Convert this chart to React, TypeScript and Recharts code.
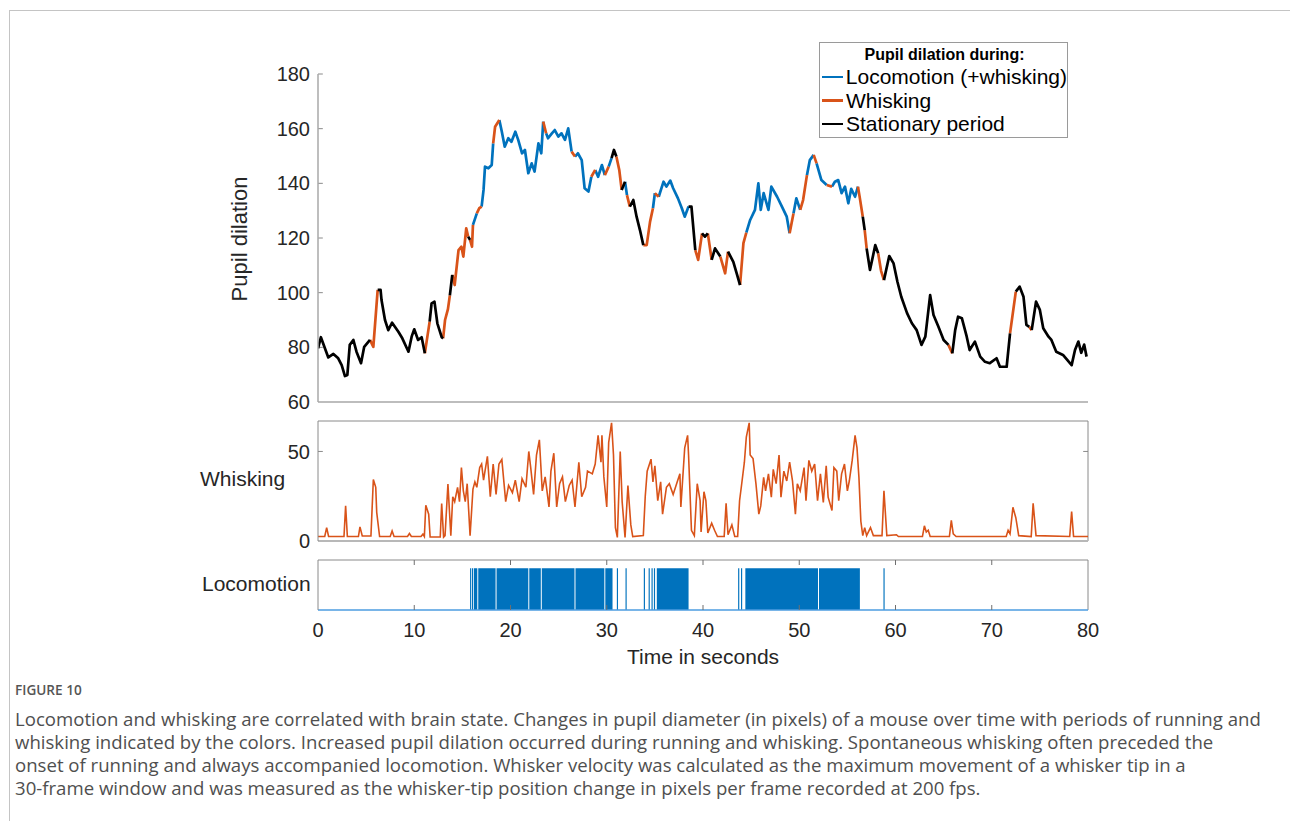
import React from 'react';
import {
  LineChart,
  Line,
  XAxis,
  YAxis,
  ReferenceLine,
  Legend,
  ComposedChart,
  Area,
} from 'recharts';

const FONT = '"Liberation Sans", Arial, Helvetica, sans-serif';
const CAPTION_FONT = '"Open Sans", "Noto Sans", sans-serif';

const BLUE = '#0072BD';
const ORANGE = '#D95319';
const BLACK = '#000000';
const AXIS = '#8a8a8a';

// geometry: plot area spans x 318..1088 in every panel
const AXIS_W = 60;
const PLOT_W = 770;
const RIGHT_PAD = 20;
const CHART_LEFT = 318 - AXIS_W;
const CHART_W = AXIS_W + PLOT_W + RIGHT_PAD;

const xTicks = [0, 10, 20, 30, 40, 50, 60, 70, 80];
const innerXTicks = [10, 20, 30, 40, 50, 60, 70];
const pupilTicks = [60, 80, 100, 120, 140, 160, 180];
const whiskTicks = [0, 50];

// pupil dilation trace (seconds, pixels) and the state of each segment:
// L = locomotion (+whisking), W = whisking, S = stationary
const pupilTime = [
  0, 0.3, 1.07, 1.6, 2.1, 2.46, 2.8, 3.05, 3.3, 3.67,
  4.0, 4.47, 4.8, 5.4, 5.75, 6.2, 6.5, 6.6, 6.96, 7.3,
  7.7, 8.35, 8.76, 9.4, 9.73, 10.0, 10.4, 10.77, 11.1, 11.6,
  11.8, 12.1, 12.4, 12.85, 13.0, 13.2, 13.5, 13.7, 13.95, 14.2,
  14.6, 14.9, 15.1, 15.4, 15.6, 15.8, 16.0, 16.1, 16.5, 16.76,
  17.0, 17.2, 17.35, 17.7, 18.05, 18.2, 18.4, 18.84, 19.1, 19.4,
  19.77, 20.1, 20.5, 20.8, 21.2, 21.5, 21.85, 22.2, 22.5, 22.9,
  23.2, 23.4, 23.7, 23.9, 24.3, 24.6, 24.97, 25.3, 25.66, 26.0,
  26.35, 26.7, 27.0, 27.4, 27.7, 28.1, 28.4, 28.8, 29.1, 29.5,
  29.8, 30.2, 30.5, 30.75, 31.0, 31.3, 31.55, 31.9, 32.1, 32.4,
  32.76, 33.1, 33.45, 33.8, 34.15, 34.5, 34.8, 35.0, 35.4, 35.9,
  36.2, 36.6, 36.9, 37.4, 37.8, 38.1, 38.5, 38.8, 39.2, 39.5,
  39.9, 40.2, 40.5, 40.9, 41.25, 41.8, 42.3, 42.6, 43.15, 43.5,
  43.85, 44.2, 44.5, 44.9, 45.4, 45.75, 46.0, 46.3, 46.8, 47.1,
  47.7, 48.2, 48.7, 49.0, 49.4, 49.7, 50.1, 50.4, 50.8, 51.1,
  51.5, 51.8, 52.3, 52.85, 53.4, 53.7, 54.05, 54.4, 54.75, 55.1,
  55.4, 55.8, 56.1, 56.3, 56.6, 56.8, 57.0, 57.35, 57.9, 58.2,
  58.5, 58.8, 59.35, 59.8, 60.2, 60.6, 61.2, 61.7, 62.2, 62.7,
  63.1, 63.6, 63.95, 64.45, 65.0, 65.5, 65.9, 66.2, 66.5, 66.9,
  67.4, 67.7, 68.25, 68.8, 69.3, 69.8, 70.5, 70.85, 71.55, 71.9,
  72.5, 72.9, 73.3, 73.6, 73.9, 74.15, 74.6, 75.0, 75.35, 75.9,
  76.2, 76.7, 77.4, 78.3, 78.65, 79.0, 79.3, 79.6, 79.85,
];
const pupilValue = [
  79.6, 83.7, 76.3, 77.6, 76.0, 73.5, 69.5, 69.9, 80.9, 82.7,
  78.4, 74.2, 80.2, 82.7, 80.2, 101, 101, 97.3, 90, 86.3,
  89, 85.7, 83.3, 78.4, 83.9, 86.6, 82.7, 83.7, 77.8, 89.4,
  96.1, 96.7, 88.8, 83.7, 83.3, 90, 94, 99, 106.5, 102.8,
  115.6, 116.8, 113.2, 123.5, 120.5, 119.3, 116.8, 124.8, 129, 130.9,
  131.5, 137.6, 146.1, 145.5, 146.7, 154.6, 160.7, 163.2, 158.9, 153.4,
  156.5, 155.2, 158.9, 155.9, 151, 152.2, 143.7, 147.3, 144.3, 154.6,
  151, 162.6, 158.3, 156.5, 158.3, 159.5, 157.1, 158.3, 155.9, 160.1,
  151.6, 149.8, 151, 148.5, 138.2, 137, 142.4, 144.9, 142.4, 146.7,
  143, 146.1, 149.2, 152.2, 149.8, 144.9, 137.6, 140.6, 135.7, 131.5,
  133.9, 127.8, 122.9, 117.4, 117.4, 126, 130.9, 136.4, 135.1, 140.6,
  138.8, 141, 138.2, 134.5, 130.9, 127.8, 131.5, 131.5, 115.6, 112,
  121.7, 120.5, 121.7, 112, 116.2, 113.2, 107.1, 115, 111.3, 107.1,
  102.8, 118.1, 122, 126.6, 130.3, 140, 130.3, 136.4, 130.3, 138.8,
  135.1, 131.5, 127.8, 121.7, 129, 134.5, 130.3, 133.9, 143, 148.5,
  150.4, 147.3, 141.2, 139.4, 138.8, 140.6, 141.2, 136.4, 138.8, 132.7,
  138, 135.1, 138.8, 134.5, 127.8, 122.9, 116.2, 108.3, 117.4, 114.4,
  108, 104.6, 113.4, 110.7, 104, 98.5, 92.5, 88.8, 86.3, 80.9,
  83.9, 99.1, 91.8, 87.6, 82.7, 80.9, 77.8, 86.3, 91.2, 90.6,
  83.9, 79, 82.1, 76.6, 74.7, 74.2, 76, 72.9, 72.9, 85.1,
  100.4, 102.2, 98.5, 88.2, 87.5, 86.3, 96.7, 93.7, 87.0, 83.9,
  82.7, 78.4, 77.2, 73.5, 79, 82.1, 78, 81, 76.6,
];
const pupilState = (
  'SSSSSSSSSS SSSWWSSSSS SSSSSSSSWS SSSSWWWSWW WWWWSWWLWW ' +
  'LLLLLWWLLL LLLLLLLLLL LWLLLLLLLL WLLLLLWLLL WLSSWWSLWS ' +
  'SSSWWWLWLL LLLLLLSSWW SSWSSWWSSS WWLLLLLLLL LLLWLLWWLL ' +
  'WLLWLLLLLL LLWWSWSSSW WSSSSSSSSS SSSSSWSSSS SSSSSSSSSW ' +
  'SSSSWSSSSS SSSSSSSSS'
).replace(/ /g, '').split('');

// whisker velocity trace
const whiskTime = [
  0, 0.7, 0.9, 1.1, 2.7, 2.87, 3.05, 4.2, 4.36, 4.6,
  5.5, 5.75, 6.0, 6.1, 6.4, 7.5, 7.7, 7.9, 9.3, 9.5,
  9.7, 10.7, 10.9, 11.05, 11.2, 11.5, 11.65, 12.7, 12.85, 13.05,
  13.2, 13.5, 13.8, 14.0, 14.2, 14.5, 14.7, 14.9, 15.1, 15.3,
  15.5, 15.8, 16.1, 16.3, 16.5, 16.8, 17.0, 17.2, 17.6, 17.9,
  18.2, 18.5, 18.8, 19.1, 19.5, 19.8, 20.2, 20.5, 20.9, 21.2,
  21.6, 21.9, 22.1, 22.4, 22.7, 23.0, 23.3, 23.6, 24.0, 24.2,
  24.5, 24.8, 25.1, 25.4, 25.7, 26.1, 26.4, 26.7, 27.1, 27.4,
  27.8, 28.0, 28.5, 28.8, 29.1, 29.4, 29.5, 29.7, 30.0, 30.2,
  30.5, 30.7, 30.9, 31.1, 31.4, 31.6, 31.9, 32.2, 32.5, 32.7,
  33.8, 34.0, 34.2, 34.6, 34.8, 35.0, 35.3, 35.6, 35.8, 36.2,
  36.5, 36.9, 37.3, 37.6, 37.7, 38.1, 38.4, 38.5, 38.8, 39.1,
  39.4, 39.7, 39.8, 40.1, 40.3, 40.5, 40.9, 41.2, 41.5, 42.2,
  42.4, 42.6, 43.0, 43.3, 43.6, 43.8, 44.0, 44.3, 44.5, 44.8,
  44.9, 45.2, 45.5, 45.8, 46.0, 46.3, 46.5, 46.8, 47.1, 47.3,
  47.6, 47.9, 48.1, 48.4, 48.7, 49.0, 49.3, 49.6, 49.8, 50.1,
  50.5, 50.7, 51.0, 51.3, 51.6, 51.9, 52.2, 52.5, 52.8, 53.0,
  53.4, 53.6, 53.9, 54.1, 54.4, 54.7, 55.0, 55.2, 55.5, 55.8,
  56.0, 56.2, 56.4, 56.6, 56.8, 57.0, 57.4, 57.7, 58.6, 58.8,
  59.1, 60.1, 60.3, 62.8, 63.0, 63.2, 63.4, 63.6, 65.6, 65.8,
  66.0, 66.3, 71.5, 71.7, 71.9, 72.2, 72.5, 72.8, 74.1, 74.3,
  74.6, 78.1, 78.3, 78.5, 80,
];
const whiskValue = [
  2.5, 2.5, 7.5, 2.5, 2.5, 19.7, 2.5, 2.5, 7.9, 2.8,
  2.8, 34.3, 30, 16, 2.5, 2.5, 5.6, 2.5, 2.5, 4.2,
  2.5, 2.5, 3.8, 2.5, 20, 15, 2.2, 2.2, 20.9, 2.2,
  3, 31.8, 3, 24.7, 22, 29.9, 22, 41, 28, 22,
  32, 3, 29, 33, 30, 41, 43, 34, 47.3, 24.7,
  43, 26, 43, 45.5, 22, 31, 27, 34, 22, 34.8,
  30, 50, 41, 26, 48, 56.5, 28, 35.8, 19, 39,
  49, 19, 32, 35.8, 22, 31, 34, 19, 44, 24.7,
  30, 39, 37.5, 43, 59, 44, 59, 35.8, 19, 55,
  66, 48, 7.5, 2, 50, 22, 2, 31, 9, 2.5,
  3, 25, 39, 45.7, 33, 42, 22.5, 33, 15, 30,
  32, 26, 32.6, 37.5, 19, 52, 59, 48, 6, 3,
  32, 22.5, 5, 27.5, 22.5, 4.5, 10, 6, 2.5, 2.5,
  21, 3.5, 9, 2.5, 2.5, 22.5, 31, 44, 58, 66,
  48, 46, 32, 15, 19.6, 35.5, 28, 37.5, 24.5, 40,
  32, 48, 24.5, 39, 33.5, 44, 33.5, 15, 32, 28,
  41, 22.5, 45, 39, 43, 22.5, 37.5, 21.5, 42, 24.5,
  17, 41, 39, 22.5, 37.5, 43, 28, 33.5, 45, 59,
  52, 35.5, 11, 3, 7.5, 3, 7.5, 3, 3, 28,
  3, 3.5, 2.5, 2.5, 8.5, 5, 6, 2.5, 2.5, 11.5,
  4, 2.5, 2.5, 6, 4, 18.8, 13, 3, 2.5, 21,
  3, 2.5, 16.5, 2.5, 2.5,
];

// locomotion bouts (start / end, seconds)
const locoStart = [
  15.8, 16.0, 16.2, 16.65, 18.55, 21.95, 23.25, 26.75, 29.85, 31.05,
  31.95, 33.85, 34.35, 34.65, 34.9, 35.2, 43.65, 43.95, 44.4, 52.05, 58.75,
];
const locoEnd = [
  15.92, 16.12, 16.55, 18.45, 21.85, 23.15, 26.65, 29.75, 30.6, 31.17,
  32.07, 33.97, 34.47, 34.77, 35.02, 38.5, 43.77, 44.07, 51.95, 56.3, 58.87,
];

const pupilSeries = [
  { code: 'L', name: 'Locomotion (+whisking)', color: BLUE },
  { code: 'W', name: 'Whisking', color: ORANGE },
  { code: 'S', name: 'Stationary period', color: BLACK },
];

// one series per state, runs separated by null points so the line breaks
const buildRuns = (code: string) => {
  const out: { t: number; v: number | null }[] = [];
  for (let i = 0; i < pupilTime.length - 1; i++) {
    if (pupilState[i] !== code) continue;
    if (i === 0 || pupilState[i - 1] !== code) {
      if (out.length) out.push({ t: pupilTime[i], v: null });
      out.push({ t: pupilTime[i], v: pupilValue[i] });
    }
    out.push({ t: pupilTime[i + 1], v: pupilValue[i + 1] });
  }
  return out;
};

const whiskData = whiskTime.map((t, i) => ({ t, v: whiskValue[i] }));

const locoData = (() => {
  const out = [{ t: 0, v: 0 }];
  locoStart.forEach((s, i) => {
    out.push({ t: s, v: 1 });
    out.push({ t: locoEnd[i], v: 0 });
  });
  out.push({ t: 80, v: 0 });
  return out;
})();

const tickStyle = { fill: '#262626', fontSize: 20, fontFamily: FONT };

const LegendBox = (props: any) => {
  const { payload = [] } = props;
  // keep the series order (the legend sorts by name otherwise)
  const ordered = pupilSeries
    .map((s) => payload.find((p: any) => p.value === s.name))
    .filter(Boolean);
  return (
    <div
      style={{
        width: 249,
        height: 96,
        boxSizing: 'border-box',
        border: '1px solid #9a9a9a',
        background: '#fff',
        padding: '2px 0 1px 2px',
        fontFamily: FONT,
        color: '#000',
      }}
    >
      <div style={{ fontWeight: 700, fontSize: 16, lineHeight: '20px', textAlign: 'center' }}>
        Pupil dilation during:
      </div>
      {ordered.map((entry: any) => (
        <div key={entry.value} style={{ display: 'flex', alignItems: 'center', height: 23.5 }}>
          <span style={{ display: 'inline-block', width: 21, height: 2.5, background: entry.color, marginRight: 3 }} />
          <span style={{ fontSize: 21, lineHeight: '23.5px', whiteSpace: 'nowrap' }}>{entry.value}</span>
        </div>
      ))}
    </div>
  );
};

const captionLines = [
  'Locomotion and whisking are correlated with brain state. Changes in pupil diameter (in pixels) of a mouse over time with periods of running and',
  'whisking indicated by the colors. Increased pupil dilation occurred during running and whisking. Spontaneous whisking often preceded the',
  'onset of running and always accompanied locomotion. Whisker velocity was calculated as the maximum movement of a whisker tip in a',
  '30-frame window and was measured as the whisker-tip position change in pixels per frame recorded at 200 fps.',
];

const labelStyle: React.CSSProperties = {
  position: 'absolute',
  fontFamily: FONT,
  fontSize: 21,
  lineHeight: '21px',
  color: '#262626',
  whiteSpace: 'nowrap',
};

export default function App() {
  return (
    <div
      style={{
        position: 'absolute',
        left: 0,
        top: 0,
        width: 1290,
        height: 821,
        background: '#fff',
        overflow: 'hidden',
        fontFamily: FONT,
      }}
    >
      <div
        style={{
          position: 'absolute',
          left: 9,
          top: 10,
          right: 0,
          bottom: 0,
          borderTop: '1px solid #c4c4c4',
          borderLeft: '1px solid #c4c4c4',
        }}
      />

      {/* Pupil dilation panel */}
      <div style={{ position: 'absolute', left: CHART_LEFT, top: 34 }}>
        <LineChart width={CHART_W} height={380} margin={{ top: 40, right: RIGHT_PAD, bottom: 12, left: 0 }}>
          <XAxis type="number" dataKey="t" domain={[0, 80]} allowDataOverflow hide />
          <YAxis
            type="number"
            domain={[60, 180]}
            ticks={pupilTicks}
            interval={0}
            width={AXIS_W}
            tickSize={0}
            tickMargin={8}
            tickLine={false}
            axisLine={{ stroke: '#a9a9a9', strokeWidth: 1.5 }}
            tick={tickStyle}
          />
          <ReferenceLine y={60} stroke="#bdbdbd" strokeWidth={2} />
          {pupilTicks.slice(1).map((v) => (
            <ReferenceLine key={v} segment={[{ x: 0, y: v }, { x: 0.5, y: v }]} stroke={AXIS} />
          ))}
          {pupilSeries.map((s) => (
            <Line
              key={s.code}
              data={buildRuns(s.code)}
              dataKey="v"
              name={s.name}
              type="linear"
              stroke={s.color}
              strokeWidth={2.7}
              strokeLinejoin="round"
              dot={false}
              activeDot={false}
              connectNulls={false}
              isAnimationActive={false}
            />
          ))}
          <Legend
            layout="horizontal"
            align="center"
            verticalAlign="middle"
            content={<LegendBox />}
            wrapperStyle={{ left: 819 - CHART_LEFT, top: 8, width: 249 }}
          />
        </LineChart>
      </div>

      {/* Whisking panel */}
      <div style={{ position: 'absolute', left: CHART_LEFT, top: 411 }}>
        <LineChart width={CHART_W} height={150} margin={{ top: 10, right: RIGHT_PAD, bottom: 20, left: 0 }}>
          <XAxis type="number" dataKey="t" domain={[0, 80]} allowDataOverflow hide />
          <YAxis
            type="number"
            domain={[0, 67]}
            ticks={whiskTicks}
            interval={0}
            width={AXIS_W}
            tickSize={0}
            tickMargin={8}
            tickLine={false}
            axisLine={{ stroke: AXIS }}
            tick={tickStyle}
          />
          <ReferenceLine y={67} stroke={AXIS} />
          <ReferenceLine x={80} stroke={AXIS} />
          <ReferenceLine y={0} stroke="#b8b8b8" strokeWidth={2} />
          <ReferenceLine segment={[{ x: 0, y: 50 }, { x: 0.5, y: 50 }]} stroke={AXIS} />
          <ReferenceLine segment={[{ x: 79.5, y: 50 }, { x: 80, y: 50 }]} stroke={AXIS} />
          <Line
            data={whiskData}
            dataKey="v"
            type="linear"
            stroke={ORANGE}
            strokeWidth={1.6}
            dot={false}
            activeDot={false}
            isAnimationActive={false}
          />
        </LineChart>
      </div>

      {/* Locomotion panel */}
      <div style={{ position: 'absolute', left: CHART_LEFT, top: 555 }}>
        <ComposedChart width={CHART_W} height={95} margin={{ top: 5, right: RIGHT_PAD, bottom: 0, left: 0 }}>
          <XAxis
            type="number"
            dataKey="t"
            domain={[0, 80]}
            ticks={xTicks}
            interval={0}
            allowDataOverflow
            height={40}
            tickSize={0}
            tickMargin={13}
            tickLine={false}
            axisLine={false}
            tick={tickStyle}
          />
          <YAxis
            type="number"
            domain={[0, 1.2]}
            width={AXIS_W}
            tick={false}
            tickLine={false}
            axisLine={{ stroke: AXIS }}
          />
          <Area
            data={locoData}
            dataKey="v"
            type="stepAfter"
            stroke="none"
            fill={BLUE}
            fillOpacity={1}
            isAnimationActive={false}
            activeDot={false}
          />
          <ReferenceLine y={1.2} stroke={AXIS} />
          <ReferenceLine x={80} stroke={AXIS} />
          <ReferenceLine y={0} stroke="#4d9de0" strokeWidth={1.5} />
          {innerXTicks.map((t) => (
            <ReferenceLine key={`top${t}`} segment={[{ x: t, y: 1.2 }, { x: t, y: 1.08 }]} stroke="#6f6f6f" />
          ))}
          {innerXTicks.map((t) => (
            <ReferenceLine key={`bot${t}`} segment={[{ x: t, y: 0 }, { x: t, y: 0.12 }]} stroke="#6f6f6f" />
          ))}
        </ComposedChart>
      </div>

      {/* axis titles */}
      <div
        style={{
          ...labelStyle,
          fontSize: 22,
          lineHeight: '22px',
          left: 240,
          top: 239,
          transform: 'translate(-50%, -50%) rotate(-90deg)',
        }}
      >
        Pupil dilation
      </div>
      <div style={{ ...labelStyle, left: 200, top: 467.5 }}>Whisking</div>
      <div style={{ ...labelStyle, left: 202, top: 572.5 }}>Locomotion</div>
      <div style={{ ...labelStyle, left: 703, top: 645.5, transform: 'translateX(-50%)' }}>Time in seconds</div>

      {/* caption */}
      <div
        style={{
          position: 'absolute',
          left: 15,
          top: 682,
          fontFamily: CAPTION_FONT,
          fontSize: 13.6,
          lineHeight: '16px',
          fontWeight: 600,
          color: '#555',
        }}
      >
        FIGURE 10
      </div>
      <div
        style={{
          position: 'absolute',
          left: 15,
          top: 706.5,
          fontFamily: CAPTION_FONT,
          fontSize: 18.6,
          lineHeight: '23px',
          color: '#4f4f4f',
        }}
      >
        {captionLines.map((line) => (
          <div key={line} style={{ whiteSpace: 'nowrap' }}>
            {line}
          </div>
        ))}
      </div>
    </div>
  );
}
